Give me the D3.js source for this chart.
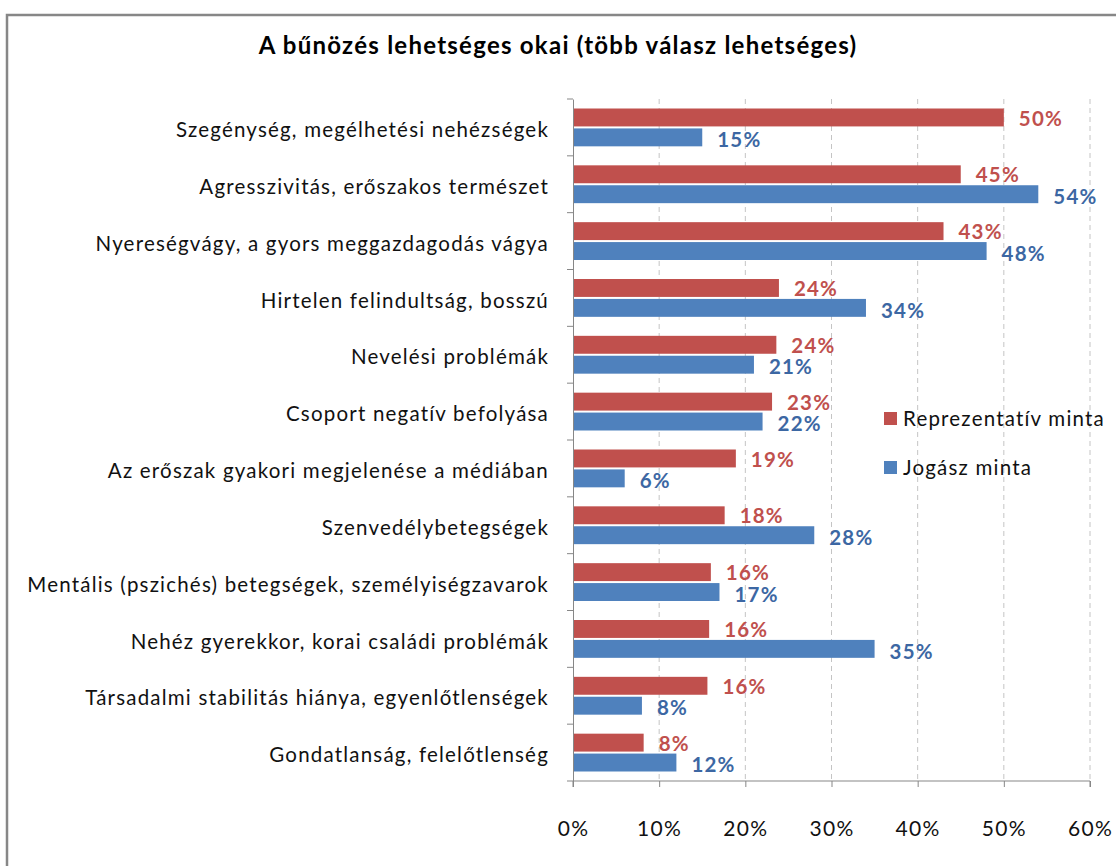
<!DOCTYPE html>
<html>
<head>
<meta charset="utf-8">
<script src="https://cdn.jsdelivr.net/npm/d3@7"></script>
<style>
  body { margin: 0; background: #fff; }
  svg { display: block; font-family: Lato, "Open Sans", sans-serif; }
</style>
</head>
<body>
<div id="graf"></div>
<script>
// Datos
const categorias = [
  "Szegénység, megélhetési nehézségek",
  "Agresszivitás, erőszakos természet",
  "Nyereségvágy, a gyors meggazdagodás vágya",
  "Hirtelen felindultság, bosszú",
  "Nevelési problémák",
  "Csoport negatív befolyása",
  "Az erőszak gyakori megjelenése a médiában",
  "Szenvedélybetegségek",
  "Mentális (pszichés) betegségek, személyiségzavarok",
  "Nehéz gyerekkor, korai családi problémák",
  "Társadalmi stabilitás hiánya, egyenlőtlenségek",
  "Gondatlanság, felelőtlenség"
]
const series = ["Reprezentatív minta", "Jogász minta"]
const reprezentativ = [0.50, 0.45, 0.43, 0.239, 0.236, 0.231, 0.189, 0.176, 0.16, 0.158, 0.156, 0.082]
const jogasz = [0.15, 0.54, 0.48, 0.34, 0.21, 0.22, 0.06, 0.28, 0.17, 0.35, 0.08, 0.12]
const ticks = [0, 0.1, 0.2, 0.3, 0.4, 0.5, 0.6]
const titulo = "A bűnözés lehetséges okai (több válasz lehetséges)"

const draw = () => {
  const anchoTotal = 1116
  const altoTotal = 866
  const margins = { top: 99, right: 26, bottom: 85, left: 573 }
  const ancho = 1090 - margins.left
  const alto = 781 - margins.top

  const colorBar = { "Reprezentatív minta": "#C0504D", "Jogász minta": "#4F81BD" }
  const colorTxt = { "Reprezentatív minta": "#C0504D", "Jogász minta": "#3C67A3" }
  // desplazamiento vertical de la etiqueta respecto al centro de la barra
  const offTxt = { "Reprezentatív minta": 1, "Jogász minta": 2.5 }

  const dataset = categorias.map((c, i) => ({
    cat: c,
    valores: [
      { serie: series[0], valor: reprezentativ[i] },
      { serie: series[1], valor: jogasz[i] }
    ]
  }))

  // Escaladores
  const x = d3.scaleLinear().domain([0, 0.6]).range([0, ancho])
  const y = d3.scaleBand().domain(categorias).range([0, alto])
  const ySerie = d3.scaleBand().domain(series)
    .range([9.5, y.bandwidth() - 9.5]).paddingInner(0.1)

  const svg = d3.select("#graf").append("svg")
    .attr("width", anchoTotal)
    .attr("height", altoTotal)

  // Marco
  svg.append("path")
    .attr("d", `M7,${altoTotal} V15 H${anchoTotal}`)
    .attr("fill", "none")
    .attr("stroke", "#878787")
    .attr("stroke-width", 2.5)

  // Título
  svg.append("text")
    .attr("x", 558)
    .attr("y", 54)
    .attr("text-anchor", "middle")
    .attr("font-size", 24)
    .attr("font-weight", "bold")
    .attr("letter-spacing", 1.25)
    .attr("fill", "#000")
    .text(titulo)

  const chart = svg.append("g")
    .attr("transform", `translate(${margins.left}, ${margins.top})`)

  // Líneas de cuadrícula
  chart.append("g")
    .selectAll("line")
    .data(ticks.slice(1))
    .join("line")
    .attr("x1", (d) => x(d))
    .attr("x2", (d) => x(d))
    .attr("y1", 0)
    .attr("y2", alto)
    .attr("stroke", "#c4c4c4")
    .attr("stroke-dasharray", "5,4")

  // Barras
  const grupos = chart.selectAll("g.cat")
    .data(dataset)
    .join("g")
    .attr("class", "cat")
    .attr("transform", (d) => `translate(0, ${y(d.cat)})`)

  grupos.selectAll("rect")
    .data((d) => d.valores)
    .join("rect")
    .attr("x", 0)
    .attr("y", (d) => ySerie(d.serie))
    .attr("width", (d) => x(d.valor))
    .attr("height", ySerie.bandwidth())
    .attr("fill", (d) => colorBar[d.serie])

  // Etiquetas de valores
  grupos.selectAll("text")
    .data((d) => d.valores)
    .join("text")
    .attr("x", (d) => x(d.valor) + 15)
    .attr("y", (d) => ySerie(d.serie) + ySerie.bandwidth() / 2 + offTxt[d.serie])
    .attr("dy", "0.35em")
    .attr("font-size", 20.5)
    .attr("font-weight", "bold")
    .attr("letter-spacing", 1.2)
    .attr("fill", (d) => colorTxt[d.serie])
    .text((d) => d3.format(".0%")(d.valor))

  // Ejes
  const yAxis = d3.axisLeft(y).tickSize(0).tickFormat("")
  const yAxisGroup = chart.append("g").call(yAxis)
  yAxisGroup.select(".domain").attr("stroke", "#878787")
  yAxisGroup.selectAll(".tick").remove()
  yAxisGroup.selectAll("line.sep")
    .data(d3.range(categorias.length + 1))
    .join("line")
    .attr("class", "sep")
    .attr("x1", -6).attr("x2", 0)
    .attr("y1", (d) => d * y.step())
    .attr("y2", (d) => d * y.step())
    .attr("stroke", "#878787")

  chart.append("g").selectAll("text")
    .data(categorias)
    .join("text")
    .attr("x", -24)
    .attr("y", (d) => y(d) + y.bandwidth() / 2 + 2.5)
    .attr("dy", "0.35em")
    .attr("text-anchor", "end")
    .attr("font-size", 20.5)
    .attr("letter-spacing", 1.2)
    .attr("fill", "#111")
    .text((d) => d)

  const xAxis = d3.axisBottom(x)
    .tickValues(ticks)
    .tickSize(6)
    .tickPadding(34)
    .tickFormat(d3.format(".0%"))

  const xAxisGroup = chart.append("g")
    .attr("transform", `translate(0, ${alto})`)
    .call(xAxis)
  xAxisGroup.select(".domain").attr("stroke", "#878787").attr("d", `M0,6V0H${ancho}V6`)
  xAxisGroup.selectAll(".tick line").attr("stroke", "#878787")
  xAxisGroup.selectAll(".tick text")
    .attr("font-size", 21)
    .attr("letter-spacing", 1.3)
    .attr("font-family", "Lato, sans-serif")
    .attr("fill", "#111")

  // Leyenda
  const leyenda = svg.append("g")
    .attr("transform", "translate(884, 412)")
  const item = leyenda.selectAll("g")
    .data(series)
    .join("g")
    .attr("transform", (d, i) => `translate(0, ${i * 49})`)
  item.append("rect")
    .attr("width", 13)
    .attr("height", 13)
    .attr("fill", (d) => colorBar[d])
  item.append("text")
    .attr("x", 19)
    .attr("y", 7)
    .attr("dy", "0.35em")
    .attr("font-size", 20.5)
    .attr("letter-spacing", 1.2)
    .attr("fill", "#111")
    .text((d) => d)
}

draw()
</script>
</body>
</html>
